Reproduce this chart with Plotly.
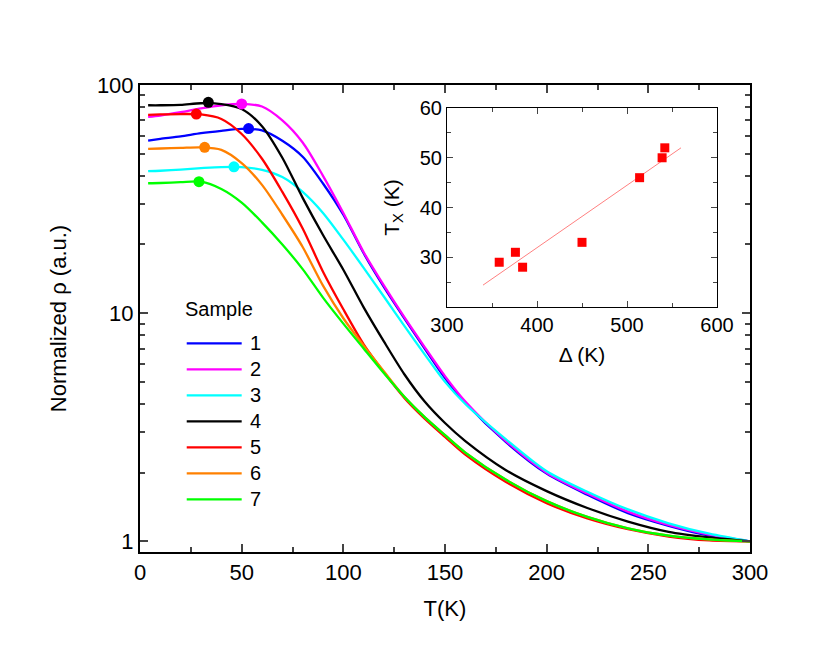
import plotly.graph_objects as go

# temperature grid (K) and normalized resistivity per sample
T = [4, 10, 20, 30, 40, 50, 60, 70, 80, 90, 100, 110, 120, 130, 140, 150,
     160, 180, 200, 220, 240, 260, 280, 300]

rho_1 = [57, 58, 59.5, 61.5, 63, 64.2, 63.3, 57, 48.5, 37, 27, 18.3, 13.0,
         9.5, 7.0, 5.2, 4.05, 2.72, 1.98, 1.6, 1.33, 1.17, 1.06, 1.0]
rho_2 = [72.5, 73.5, 76, 79, 81.5, 82.6, 80.5, 70, 56, 40, 27.5, 18.5, 13.2,
         9.6, 7.1, 5.3, 4.1, 2.75, 2.0, 1.62, 1.35, 1.18, 1.07, 1.0]
rho_3 = [41.9, 42.1, 42.6, 43.2, 43.7, 43.7, 42.5, 39.5, 34, 27.5, 21, 15.8,
         11.8, 8.8, 6.6, 5.0, 4.0, 2.8, 2.03, 1.65, 1.38, 1.2, 1.08, 1.0]
rho_4 = [81.5, 81.5, 81.8, 83.2, 82.5, 78.5, 66, 48, 32, 22, 15.5, 10.6, 7.5,
         5.4, 4.1, 3.3, 2.75, 2.05, 1.66, 1.4, 1.22, 1.1, 1.04, 1.0]
rho_5 = [74, 74.3, 74.6, 74.3, 71, 61, 47.5, 34, 23.5, 15.2, 10.4, 7.3, 5.5,
         4.25, 3.45, 2.87, 2.4, 1.82, 1.47, 1.26, 1.13, 1.05, 1.01, 1.0]
rho_6 = [52.5, 52.7, 53.0, 53.3, 52, 45.5, 36.5, 27, 19.5, 13.2, 9.5, 7.2,
         5.55, 4.3, 3.5, 2.92, 2.45, 1.86, 1.5, 1.28, 1.14, 1.06, 1.02, 1.0]
rho_7 = [37.1, 37.2, 37.5, 37.7, 35, 30.5, 25, 20, 15.6, 11.7, 9.0, 7.0, 5.45,
         4.3, 3.5, 2.92, 2.45, 1.86, 1.5, 1.28, 1.14, 1.06, 1.02, 1.0]

samples = ["1", "2", "3", "4", "5", "6", "7"]
colors = ["#0000ff", "#ff00ff", "#00ffff", "#000000", "#ff0000", "#ff8000", "#00ff00"]

# T_x (maximum) marked on each curve
peak_T = [53.4, 50, 46.2, 33.6, 27.7, 31.8, 29]
peak_rho = [64.4, 82.6, 43.8, 84.0, 74.6, 53.3, 37.7]

# inset: T_x vs gap
delta = [358, 376, 384, 450, 514, 539, 542]
tx = [29, 31, 28, 33, 46, 50, 52]
fit_delta = [340, 560]
fit_tx = [24.4, 52.0]

FONT = "Liberation Sans, Arial, sans-serif"

fig = go.Figure()

curves = [rho_1, rho_2, rho_3, rho_4, rho_5, rho_6, rho_7]
for name, col, rho in zip(samples, colors, curves):
    fig.add_trace(go.Scatter(
        x=T, y=rho, mode="lines", name=name, showlegend=False,
        line=dict(color=col, width=2.3, shape="spline", smoothing=0.8),
    ))

for i, col in enumerate(colors):
    fig.add_trace(go.Scatter(
        x=[peak_T[i]], y=[peak_rho[i]], mode="markers", showlegend=False,
        marker=dict(color=col, size=11),
    ))

# inset
fig.add_trace(go.Scatter(
    x=fit_delta, y=fit_tx, mode="lines", showlegend=False,
    line=dict(color="#ff8080", width=1), xaxis="x2", yaxis="y2",
))
fig.add_trace(go.Scatter(
    x=delta, y=tx, mode="markers", showlegend=False,
    marker=dict(color="#ff0000", size=9, symbol="square"),
    xaxis="x2", yaxis="y2",
))

# hand-drawn legend block ("Sample" + short coloured lines)
leg_y0, leg_step = 0.4469, 0.0557
fig.add_annotation(x=0.0705, y=0.5203, xref="paper", yref="paper",
                   text="Sample", showarrow=False, xanchor="left",
                   yanchor="middle", font=dict(size=20))
for i, (name, col) in enumerate(zip(samples, colors)):
    yy = leg_y0 - i * leg_step
    fig.add_shape(type="line", xref="paper", yref="paper",
                  x0=0.0766, x1=0.1667, y0=yy, y1=yy,
                  line=dict(color=col, width=2.3))
    fig.add_annotation(x=0.177, y=yy, xref="paper", yref="paper",
                       text=name, showarrow=False, xanchor="left",
                       yanchor="middle", font=dict(size=20))

log_minor = [2, 3, 4, 5, 6, 7, 8, 9, 20, 30, 40, 50, 60, 70, 80, 90]

fig.update_layout(
    width=830, height=664,
    paper_bgcolor="white", plot_bgcolor="white",
    font=dict(family=FONT, size=20, color="black"),
    margin=dict(l=132, r=88, t=77, b=120),
    showlegend=False,
    xaxis=dict(
        domain=[0, 1], range=[0, 300],
        tickvals=[0, 50, 100, 150, 200, 250, 300],
        ticks="inside", ticklen=8, tickwidth=1.5,
        minor=dict(tickvals=[25, 75, 125, 175, 225, 275], ticks="inside",
                   ticklen=5, tickwidth=1.5),
        showline=True, linewidth=2, linecolor="black", mirror="allticks",
        showgrid=False, zeroline=False,
        tickfont=dict(size=22),
        title=dict(text="T(K)", font=dict(size=22), standoff=16),
    ),
    yaxis=dict(
        domain=[0, 1], type="log", range=[-0.0467, 2],
        tickvals=[1, 10, 100], ticktext=["1", "10", "100"],
        ticks="inside", ticklen=8, tickwidth=1.5,
        minor=dict(tickvals=log_minor, ticks="inside", ticklen=5, tickwidth=1.5),
        showline=True, linewidth=2, linecolor="black", mirror="allticks",
        showgrid=False, zeroline=False,
        tickfont=dict(size=22),
        title=dict(text="Normalized \u03c1 (a.u.)", font=dict(size=22), standoff=24),
    ),
    xaxis2=dict(
        domain=[0.5033, 0.9459], anchor="y2", range=[300, 600],
        tickvals=[300, 400, 500, 600],
        ticks="inside", ticklen=6, tickwidth=1,
        minor=dict(tickvals=[350, 450, 550], ticks="inside", ticklen=4, tickwidth=1),
        showline=True, linewidth=1.2, linecolor="black", mirror="allticks",
        showgrid=False, zeroline=False,
        tickfont=dict(size=20),
        title=dict(text="\u0394 (K)", font=dict(size=21), standoff=12),
    ),
    yaxis2=dict(
        domain=[0.5246, 0.9507], anchor="x2", range=[20, 60],
        tickvals=[30, 40, 50, 60],
        ticks="inside", ticklen=6, tickwidth=1,
        minor=dict(tickvals=[25, 35, 45, 55], ticks="inside", ticklen=4, tickwidth=1),
        showline=True, linewidth=1.2, linecolor="black", mirror="allticks",
        showgrid=False, zeroline=False,
        tickfont=dict(size=20),
        title=dict(text="T<sub>X</sub> (K)", font=dict(size=21), standoff=14),
    ),
)

fig.write_html("out.html")
